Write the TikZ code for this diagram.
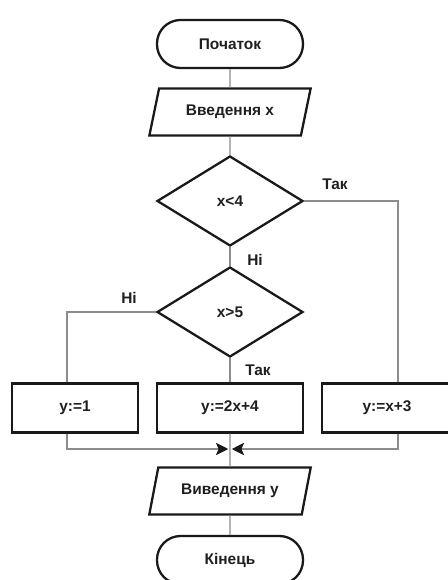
\documentclass[tikz,border=0pt]{standalone}
\usepackage{fontspec}
\setmainfont{Liberation Sans}
\usetikzlibrary{arrows.meta,calc,shapes.geometric}
\definecolor{LineClr}{rgb}{0.55,0.55,0.55}
\definecolor{ShapeClr}{rgb}{0.1,0.1,0.1}
\definecolor{TextClr}{rgb}{0.12,0.12,0.12}

\begin{document}
\begin{tikzpicture}[x=0.02cm,y=-0.02cm,
  font=\fontsize{8.8}{10}\selectfont\bfseries,text=TextClr,
  base/.style={draw=ShapeClr,line width=1.3pt,inner sep=1pt},
  term/.style={base,rectangle,rounded corners=0.47cm,minimum width=2.92cm,minimum height=0.96cm},
  io/.style={base,trapezium,trapezium left angle=70,trapezium right angle=110,
    trapezium stretches=true,minimum width=3.24cm,minimum height=0.94cm},
  cond/.style={base,diamond,minimum width=2.92cm,minimum height=1.8cm},
  proc/.style={base,rectangle,minimum height=0.98cm},
  link/.style={draw=LineClr,line width=0.7pt},
  mergearrow/.style={link,-{Stealth[length=7pt,width=7pt,inset=1.5pt,color=ShapeClr]}}]
\useasboundingbox (0,0) rectangle (447,580);

% blocks
\node[term] (start) at (230,44) {Початок};
\node[io] (inx) at (230,112) {Введення x};
\node[cond] (lt) at (230,201) {x<4};
\node[cond] (gt) at (230,312) {x>5};
\node[proc,minimum width=2.52cm] (one) at (75,408) {y:=1};
\node[proc,minimum width=2.92cm] (two) at (230,408) {y:=2x+4};
\node[proc,minimum width=2.6cm] (three) at (387,408) {y:=x+3};
\node[io] (outy) at (230,491) {Виведення y};
\begin{scope}
\clip (0,0) rectangle (447,580);
\node[term] (stop) at (230,560) {Кінець};
\end{scope}

\coordinate (rx) at (398,0);
\coordinate (lx) at (67,0);
\coordinate (mj) at (230,449);

% connectors
\draw[link] (start) -- (inx);
\draw[link] (inx) -- (lt);
\draw[link] (lt) -- (gt);
\draw[link] (lt.east) -| (rx |- three.north);
\draw[link] (gt.west) -| (lx |- one.north);
\draw[link] (gt) -- (two);
\draw[link] (two) -- (outy);
\draw[mergearrow] (lx |- one.south) |- ([xshift=-1pt]mj);
\draw[mergearrow] (rx |- three.south) |- ([xshift=1pt]mj);
\draw[link] (outy) -- (stop);

% labels
\node (yes1) at (335,184) {Так};
\node (no1) at (255,260) {Ні};
\node (no2) at (129,298) {Ні};
\node (yes2) at (258,370) {Так};

\end{tikzpicture}
\end{document}
